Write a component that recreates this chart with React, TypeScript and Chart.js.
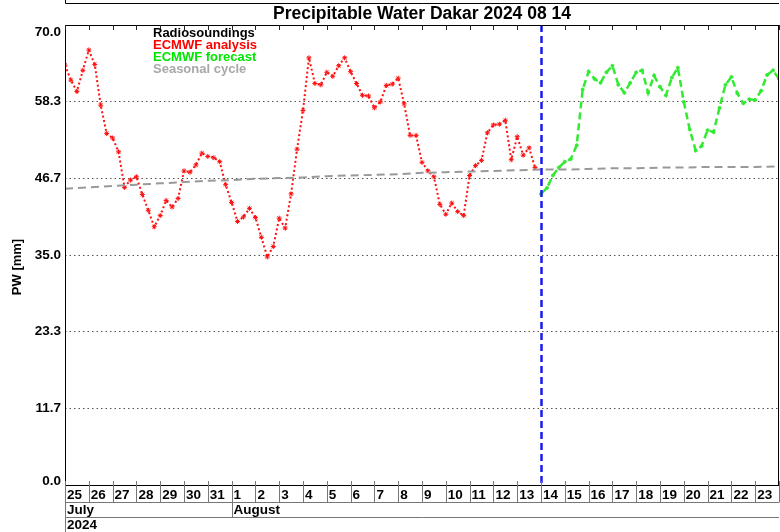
import React, { useEffect, useRef } from "react";
import { Chart, registerables } from "chart.js";

Chart.register(...registerables);

const chartTitle = "Precipitable Water Dakar 2024 08 14";
const yAxisTitle = "PW [mm]";
const dayLabels = [
  "25", "26", "27", "28", "29", "30", "31",
  "1", "2", "3", "4", "5", "6", "7", "8", "9", "10", "11", "12", "13",
  "14", "15", "16", "17", "18", "19", "20", "21", "22", "23",
];
const monthLabels = ["July", "August"];
const monthStartDays = [0, 7];
const yearLabel = "2024";
const yTicks = [0, 11.667, 23.333, 35, 46.667, 58.333, 70];
const legendLabels = ["Radiosoundings", "ECMWF analysis", "ECMWF forecast", "Seasonal cycle"];
const legendColors = ["#000000", "#ff0000", "#00e600", "#a8a8a8"];

// analysis: 6-hourly from Jul 25 00Z (day 0)
const analysisStep = 0.25;
const analysisValues = [
  63.9, 61.6, 59.9, 63.1, 66.2, 64.0, 57.8, 53.5, 52.8, 50.7,
  45.3, 46.4, 46.9, 44.2, 41.8, 39.3, 41.0, 43.3, 42.3, 43.6,
  47.8, 47.6, 48.7, 50.5, 50.0, 49.8, 49.2, 45.7, 43.0, 40.1,
  40.8, 42.1, 40.7, 37.7, 34.7, 36.3, 40.6, 39.1, 44.3, 51.1,
  57.0, 65.0, 61.1, 60.9, 62.8, 62.2, 63.8, 65.0, 62.9, 61.1,
  59.3, 59.2, 57.4, 58.3, 60.8, 61.0, 61.9, 58.0, 53.2, 53.2,
  49.1, 47.8, 46.9, 42.7, 41.2, 42.9, 41.6, 41.0, 47.1, 48.6,
  49.4, 53.6, 54.8, 54.9, 55.5, 49.5, 53.0, 50.2, 51.3, 48.3,
];
// forecast: 6-hourly from Aug 14 00Z (day 20)
const forecastStart = 20;
const forecastStep = 0.25;
const forecastValues = [
  44.3, 45.2, 47.1, 48.3, 49.2, 49.6, 51.7, 60.2, 62.9, 61.8,
  61.2, 62.8, 63.8, 60.9, 59.7, 61.2, 62.8, 63.1, 59.7, 62.3,
  60.6, 59.3, 62.0, 63.5, 58.3, 54.1, 50.9, 51.6, 54.0, 53.7,
  57.4, 60.9, 62.1, 59.6, 58.1, 58.7, 58.6, 60.0, 62.4, 63.1,
  61.8,
];
// seasonal cycle: daily from Jul 25
const seasonalValues = [
  45.1, 45.3, 45.5, 45.7, 45.9, 46.1, 46.3, 46.4, 46.6, 46.7,
  46.8, 47.0, 47.1, 47.2, 47.3, 47.5, 47.6, 47.7, 47.8, 47.9,
  48.0, 48.0, 48.1, 48.2, 48.2, 48.3, 48.3, 48.4, 48.4, 48.4,
  48.5,
];
const forecastDay = 20;

const FONT = '"Liberation Sans", Arial, Helvetica, sans-serif';

const decorPlugin = {
  id: "decor",
  afterDraw(chart: any) {
    const ctx = chart.ctx as CanvasRenderingContext2D;
    const { left, right, top, bottom } = chart.chartArea;
    const xs = chart.scales.x;
    const ys = chart.scales.y;
    ctx.save();

    // blue forecast line
    const fx = Math.round(xs.getPixelForValue(forecastDay)) + 0.5;
    ctx.strokeStyle = "#1a1aee";
    ctx.lineWidth = 2.5;
    ctx.setLineDash([7, 4]);
    ctx.beginPath();
    ctx.moveTo(fx, top);
    ctx.lineTo(fx, bottom);
    ctx.stroke();
    ctx.setLineDash([]);

    // plot border
    ctx.strokeStyle = "#000";
    ctx.lineWidth = 1;
    ctx.strokeRect(left + 0.5, top + 0.5, right - left - 1, bottom - top);

    // remnant of previous chart at top
    ctx.beginPath();
    ctx.moveTo(left + 0.5, 0);
    ctx.lineTo(left + 0.5, 3.5);
    ctx.lineTo(right, 3.5);
    ctx.stroke();

    // top ticks & axis rows
    const rowDay = 502.5;
    const rowMonth = 517.5;
    for (let d = 0; d <= dayLabels.length; d++) {
      const x = Math.round(xs.getPixelForValue(d)) + 0.5;
      ctx.strokeStyle = "#222";
      ctx.beginPath();
      ctx.moveTo(x, top);
      ctx.lineTo(x, top + 5);
      ctx.stroke();
      ctx.strokeStyle = "#777";
      ctx.beginPath();
      ctx.moveTo(x, bottom - 4);
      ctx.lineTo(x, rowDay);
      ctx.stroke();
    }
    ctx.strokeStyle = "#777";
    ctx.beginPath();
    ctx.moveTo(left + 0.5, rowDay);
    ctx.lineTo(right, rowDay);
    ctx.moveTo(left + 0.5, rowMonth);
    ctx.lineTo(right, rowMonth);
    ctx.stroke();
    monthStartDays.forEach((d) => {
      const x = Math.round(xs.getPixelForValue(d)) + 0.5;
      ctx.beginPath();
      ctx.moveTo(x, bottom);
      ctx.lineTo(x, rowMonth);
      ctx.stroke();
    });
    ctx.beginPath();
    ctx.moveTo(left + 0.5, bottom);
    ctx.lineTo(left + 0.5, 532);
    ctx.stroke();

    ctx.fillStyle = "#000";
    ctx.font = `bold 13.5px ${FONT}`;
    ctx.textBaseline = "middle";
    ctx.textAlign = "left";
    dayLabels.forEach((lab, d) => {
      const x = xs.getPixelForValue(d);
      ctx.fillText(lab, x + 2, 495);
    });
    monthLabels.forEach((lab, i) => {
      const x = xs.getPixelForValue(monthStartDays[i]);
      ctx.fillText(lab, x + 2, 510.5);
    });
    ctx.fillText(yearLabel, left + 2, 525);

    // y tick labels
    ctx.font = `bold 13.5px ${FONT}`;
    ctx.textAlign = "right";
    yTicks.forEach((v) => {
      let y = ys.getPixelForValue(v);
      y = Math.min(Math.max(y, top + 7), bottom - 4);
      ctx.fillText(v.toFixed(1), left - 4, y);
    });

    // y title
    ctx.save();
    ctx.translate(17, 267);
    ctx.rotate(-Math.PI / 2);
    ctx.textAlign = "center";
    ctx.font = `bold 13px ${FONT}`;
    ctx.fillText(yAxisTitle, 0, 0);
    ctx.restore();

    // title
    ctx.textAlign = "center";
    ctx.font = `bold 17.5px ${FONT}`;
    ctx.fillText(chartTitle, (left + right) / 2, 14);

    // legend
    ctx.textAlign = "left";
    ctx.font = `bold 13px ${FONT}`;
    legendLabels.forEach((lab, i) => {
      ctx.fillStyle = legendColors[i];
      ctx.fillText(lab, 153, 33 + i * 12);
    });

    ctx.restore();
  },
};

export default function App() {
  const ref = useRef<HTMLCanvasElement | null>(null);
  useEffect(() => {
    if (!ref.current) return;
    const analysisData = analysisValues.map((v, i) => ({ x: i * analysisStep, y: v }));
    const forecastData = forecastValues.map((v, i) => ({ x: forecastStart + i * forecastStep, y: v }));
    const seasonalData = seasonalValues.map((v, i) => ({ x: i, y: v }));
    const chart = new Chart(ref.current, {
      type: "line",
      data: {
        datasets: [
          {
            label: legendLabels[3],
            data: seasonalData,
            borderColor: "#999999",
            borderWidth: 2,
            borderDash: [8, 5],
            pointRadius: 0,
            tension: 0,
          },
          {
            label: legendLabels[1],
            data: analysisData,
            borderColor: "#ff1010",
            borderWidth: 2,
            borderDash: [2, 2.5],
            pointStyle: "star",
            pointRadius: 2.5,
            pointBorderColor: "#ff1010",
            pointBackgroundColor: "#ff1010",
            pointBorderWidth: 1,
            tension: 0,
          },
          {
            label: legendLabels[2],
            data: forecastData,
            borderColor: "#33ea33",
            borderWidth: 2.5,
            borderDash: [7, 4],
            pointStyle: "circle",
            pointRadius: 1.5,
            pointBorderColor: "#33ea33",
            pointBackgroundColor: "#33ea33",
            pointBorderWidth: 1,
            tension: 0,
          },
        ],
      },
      options: {
        animation: false,
        responsive: false,
        maintainAspectRatio: false,
        layout: { autoPadding: false, padding: { top: 25, right: 1, bottom: 47, left: 0 } },
        plugins: { legend: { display: false }, title: { display: false }, tooltip: { enabled: false } },
        scales: {
          x: { type: "linear", min: 0, max: dayLabels.length, display: false },
          y: {
            min: 0,
            max: 70,
            afterFit: (s: any) => {
              s.width = 65;
            },
            afterBuildTicks: (s: any) => {
              s.ticks = yTicks.map((v) => ({ value: v }));
            },
            ticks: { display: false },
            grid: { color: "#555", lineWidth: 1, drawTicks: false },
            border: { display: false, dash: [1.5, 3] },
          },
        },
      },
      plugins: [decorPlugin],
    });
    return () => chart.destroy();
  }, []);
  return (
    <div style={{ position: "fixed", left: 0, top: 0, width: 780, height: 532, background: "#fff" }}>
      <canvas ref={ref} width={780} height={532} style={{ display: "block" }} />
    </div>
  );
}
